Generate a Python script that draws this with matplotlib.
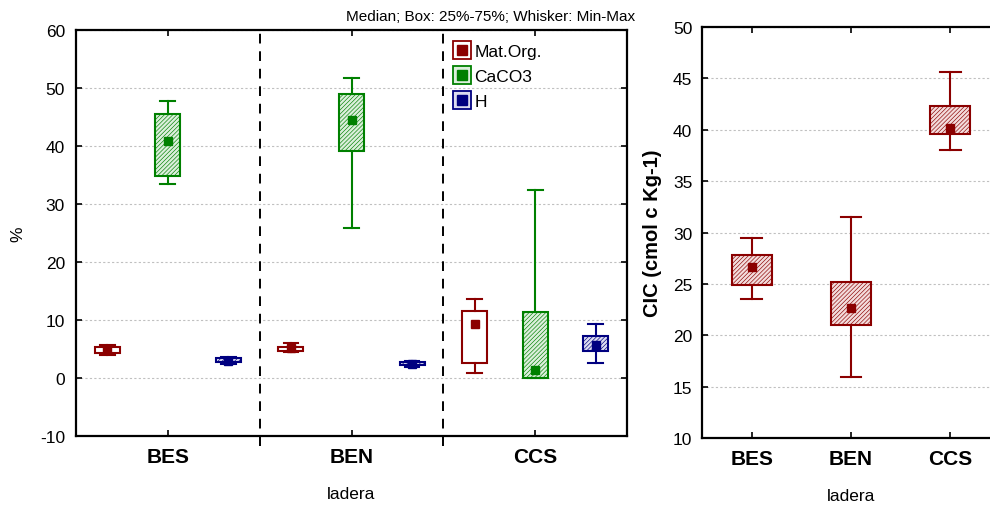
import matplotlib
matplotlib.use("Agg")
import matplotlib.pyplot as plt
from matplotlib.lines import Line2D
from matplotlib.legend_handler import HandlerTuple

plt.rcParams['font.family'] = ['Liberation Sans', 'DejaVu Sans']
plt.rcParams['hatch.linewidth'] = 0.45
plt.rcParams['axes.unicode_minus'] = False

# ---------------- data ----------------
categories = ["BES", "BEN", "CCS"]
series_names = ["Mat.Org.", "CaCO3", "H"]

# per series: lists over categories (BES, BEN, CCS)
matorg_min = [4.0, 4.4, 0.9]
matorg_q1 = [4.3, 4.6, 2.6]
matorg_med = [5.0, 5.1, 9.3]
matorg_q3 = [5.4, 5.4, 11.5]
matorg_max = [5.7, 6.1, 13.6]

caco3_min = [33.4, 25.9, 0.0]
caco3_q1 = [34.9, 39.1, 0.0]
caco3_med = [40.8, 44.5, 1.4]
caco3_q3 = [45.5, 49.0, 11.3]
caco3_max = [47.8, 51.8, 32.4]

h_min = [2.5, 1.9, 2.6]
h_q1 = [2.7, 2.2, 4.7]
h_med = [3.0, 2.5, 5.7]
h_q3 = [3.4, 2.8, 7.2]
h_max = [3.6, 3.0, 9.3]

cic_min = [23.5, 15.9, 38.0]
cic_q1 = [24.9, 21.0, 39.6]
cic_med = [26.65, 22.7, 40.2]
cic_q3 = [27.8, 25.2, 42.3]
cic_max = [29.45, 31.5, 45.6]

left_yticks = [-10, 0, 10, 20, 30, 40, 50, 60]
right_yticks = [10, 15, 20, 25, 30, 35, 40, 45, 50]

RED = "#8b0000"
GREEN = "#008000"
BLUE = "#000080"
RED_T = "#f3dcdc"
GREEN_T = "#dcefdc"
BLUE_T = "#dcdcf0"


def stats(mn, q1, med, q3, mx):
    return [dict(whislo=a, q1=b, med=c, q3=d, whishi=e, mean=c)
            for a, b, c, d, e in zip(mn, q1, med, q3, mx)]


def draw(ax, st, positions, color, face, width, capw, hatch, msize):
    ax.bxp(st, positions=positions, widths=width, capwidths=capw,
           patch_artist=True, showmeans=True, showfliers=False,
           boxprops=dict(facecolor=face, edgecolor=color, linewidth=1.5,
                         hatch=hatch),
           whiskerprops=dict(color=color, linewidth=1.5),
           capprops=dict(color=color, linewidth=1.5),
           medianprops=dict(visible=False),
           meanprops=dict(marker="s", markerfacecolor=color,
                          markeredgecolor=color, markersize=msize),
           manage_ticks=False)


def style_axes(ax):
    for s in ax.spines.values():
        s.set_linewidth(1.6)
    ax.tick_params(direction="in", top=True, right=True, length=4,
                   width=1.2, labelsize=12.5)
    ax.tick_params(axis="x", labelsize=15, pad=8)
    for lab in ax.get_xticklabels():
        lab.set_fontweight("bold")
    ax.yaxis.grid(True, color="#c0c0c0", linestyle=(0, (2, 2)), linewidth=0.8)
    ax.set_axisbelow(True)


fig = plt.figure(figsize=(9.9, 5.06), dpi=100)

# ---------------- left panel ----------------
ax1 = fig.add_axes([76 / 990, 69 / 506, 551 / 990, 406 / 506])
xs = list(range(len(categories)))
off = 0.33
w = 0.136
cw = 0.08
draw(ax1, stats(matorg_min, matorg_q1, matorg_med, matorg_q3, matorg_max),
     [x - off for x in xs], RED, "white", w, cw, None, 5.8)
draw(ax1, stats(caco3_min, caco3_q1, caco3_med, caco3_q3, caco3_max),
     xs, GREEN, GREEN_T, w, cw, "////////", 5.8)
draw(ax1, stats(h_min, h_q1, h_med, h_q3, h_max),
     [x + off for x in xs], BLUE, BLUE_T, w, cw, "////////", 5.8)

ax1.set_xlim(-0.5, 2.5)
ax1.set_ylim(-10, 60)
ax1.set_yticks(left_yticks)
ax1.set_xticks(xs)
ax1.set_xticklabels(categories)
style_axes(ax1)
ax1.tick_params(axis="y", pad=8)
for xv in [0.5, 1.5]:
    ax1.axvline(xv, ymin=-0.025, ymax=1, color="black", linestyle=(0, (5, 4)),
                linewidth=1.4, clip_on=False)
ax1.set_xlabel("ladera", fontsize=12.5, labelpad=14)
ax1.set_ylabel("%", fontsize=12.5, labelpad=10)
ax1.text(1.015, 1.018, "Median; Box: 25%-75%; Whisker: Min-Max",
         transform=ax1.transAxes, ha="right", va="bottom", fontsize=11)

handles = []
for c, ring in [(RED, "white"), (GREEN, GREEN_T), (BLUE, BLUE_T)]:
    outer = Line2D([], [], linestyle="none", marker="s", markersize=12.5,
                   markerfacecolor=ring, markeredgecolor=c, markeredgewidth=1.3)
    inner = Line2D([], [], linestyle="none", marker="s", markersize=7.5,
                   markerfacecolor=c, markeredgecolor=c)
    handles.append((outer, inner))
ax1.legend(handles, series_names, handler_map={tuple: HandlerTuple(ndivide=1)},
           loc="upper left", bbox_to_anchor=(0.665, 0.995), frameon=False,
           fontsize=12.5, handlelength=0.8, handletextpad=0.35, labelspacing=0.55,
           borderaxespad=0.3)

# ---------------- right panel ----------------
ax2 = fig.add_axes([702 / 990, 67 / 506, 298 / 990, 411 / 506])
draw(ax2, stats(cic_min, cic_q1, cic_med, cic_q3, cic_max), xs, RED, RED_T,
     0.4, 0.21, "////////", 5.5)
ax2.set_xlim(-0.5, 2.5)
ax2.set_ylim(10, 50)
ax2.set_yticks(right_yticks)
ax2.set_xticks(xs)
ax2.set_xticklabels(categories)
style_axes(ax2)
ax2.tick_params(axis="y", pad=7)
ax2.set_xlabel("ladera", fontsize=12.5, labelpad=14)
ax2.set_ylabel("CIC (cmol c Kg-1)", fontsize=14.5, fontweight="bold", labelpad=8)

fig.savefig("out.png", dpi=100)
